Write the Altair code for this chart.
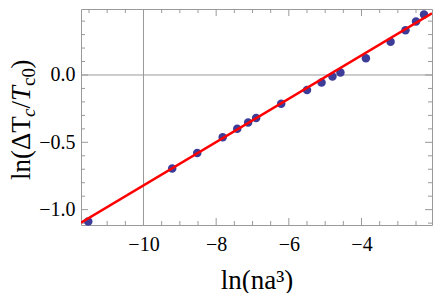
import altair as alt
import pandas as pd

# data points (ln(na^3), ln(dTc/Tc0))
pts_x = [-11.52, -9.21, -8.52, -7.82, -7.42, -7.12, -6.90, -6.21, -5.50,
         -5.10, -4.80, -4.58, -3.88, -3.20, -2.79, -2.50, -2.28]
pts_y = [-1.088, -0.694, -0.58, -0.462, -0.40, -0.353, -0.32, -0.213, -0.112,
         -0.056, -0.012, 0.019, 0.124, 0.247, 0.332, 0.397, 0.45]

# fitted line endpoints
fit_x = [-11.72, -2.06]
fit_y = [-1.097, 0.458]

x_domain = [-11.72, -2.06]
y_domain = [-1.114, 0.49]

x_major = [-10, -8, -6, -4]
x_minor = [-11.5, -11.0, -10.5, -9.5, -9.0, -8.5, -7.5, -7.0, -6.5, -5.5,
           -5.0, -4.5, -3.5, -3.0, -2.5]
y_major = [-1.0, -0.5, 0.0]
y_minor = [-1.1, -0.9, -0.8, -0.7, -0.6, -0.4, -0.3, -0.2, -0.1, 0.1, 0.2,
           0.3, 0.4]

W, H = 351, 216
FONT = "'Liberation Serif', 'Times New Roman', 'DejaVu Serif', serif"
FRAME = "#9a9a9a"

xs = alt.Scale(domain=x_domain, nice=False, zero=False)
ys = alt.Scale(domain=y_domain, nice=False, zero=False)

pts = pd.DataFrame({"x": pts_x, "y": pts_y})
fit = pd.DataFrame({"x": fit_x, "y": fit_y})

x_axis = alt.Axis(values=x_major, title="ln(na³)", ticks=False, domain=False,
                  grid=False, labelFont=FONT, labelFontSize=20,
                  labelColor="black", labelPadding=9, titleFont=FONT,
                  titleFontSize=27, titleFontWeight="normal",
                  titleColor="black", titlePadding=13)
y_axis = alt.Axis(values=y_major, format=".1f", title=None, ticks=False,
                  domain=False, grid=False, labelFont=FONT, labelFontSize=20,
                  labelColor="black", labelPadding=6)

base = alt.Chart(pts)

# origin axes (x = -10, y = 0)
vline = alt.Chart(pd.DataFrame({"x": [-10]})).mark_rule(
    color=FRAME, strokeWidth=1).encode(
    x=alt.X("x:Q", scale=xs, axis=x_axis))
hline = alt.Chart(pd.DataFrame({"y": [0.0]})).mark_rule(
    color=FRAME, strokeWidth=1).encode(
    y=alt.Y("y:Q", scale=ys, axis=y_axis))

def xticks(vals, length):
    d = pd.DataFrame({"x": vals})
    bot = alt.Chart(d).mark_rule(color=FRAME, strokeWidth=1).encode(
        x=alt.X("x:Q", scale=xs), y=alt.value(H), y2=alt.value(H - length))
    top = alt.Chart(d).mark_rule(color=FRAME, strokeWidth=1).encode(
        x=alt.X("x:Q", scale=xs), y=alt.value(0), y2=alt.value(length))
    return bot + top

def yticks(vals, length):
    d = pd.DataFrame({"y": vals})
    left = alt.Chart(d).mark_rule(color=FRAME, strokeWidth=1).encode(
        y=alt.Y("y:Q", scale=ys), x=alt.value(0), x2=alt.value(length))
    right = alt.Chart(d).mark_rule(color=FRAME, strokeWidth=1).encode(
        y=alt.Y("y:Q", scale=ys), x=alt.value(W), x2=alt.value(W - length))
    return left + right

points = base.mark_circle(size=72, color="#3d3d99", opacity=1).encode(
    x=alt.X("x:Q", scale=xs), y=alt.Y("y:Q", scale=ys))
line = alt.Chart(fit).mark_line(color="#ff0000", strokeWidth=2.6,
                                clip=True).encode(
    x=alt.X("x:Q", scale=xs), y=alt.Y("y:Q", scale=ys))

# y-axis title composed of pieces (rotated)
title_pieces = pd.DataFrame({
    "t": ["ln(ΔT", "c", "/", "T", "c0", ")"],
    "pos": [171, 108, 99.6, 92, 77, 59.5],
    "size": [27, 19, 27, 27, 19, 27],
    "xoff": [-51, -46, -51, -51, -46, -51],
    "style": ["normal", "italic", "normal", "italic", "normal", "normal"],
})
ytitle_layers = []
for i in range(len(title_pieces)):
    r = title_pieces.iloc[i]
    ytitle_layers.append(
        alt.Chart(pd.DataFrame({"t": [r["t"]]})).mark_text(
            angle=270, align="left", baseline="alphabetic", font=FONT,
            fontSize=float(r["size"]), fontStyle=r["style"], color="black"
        ).encode(text="t:N", x=alt.value(float(r["xoff"])),
                 y=alt.value(float(r["pos"])))
    )

chart = alt.layer(
    vline, hline,
    xticks(x_major, 7), xticks(x_minor, 4),
    yticks(y_major, 7), yticks(y_minor, 4),
    points, line, *ytitle_layers
).properties(
    width=W, height=H,
    autosize=alt.AutoSizeParams(type="none"),
    padding={"left": 73, "top": 1, "right": 1, "bottom": 68},
).configure_view(stroke=FRAME, strokeWidth=1).configure_axis(
    labelFont=FONT, titleFont=FONT)

chart.save("out.html", embed_options={"renderer": "svg", "actions": False})
